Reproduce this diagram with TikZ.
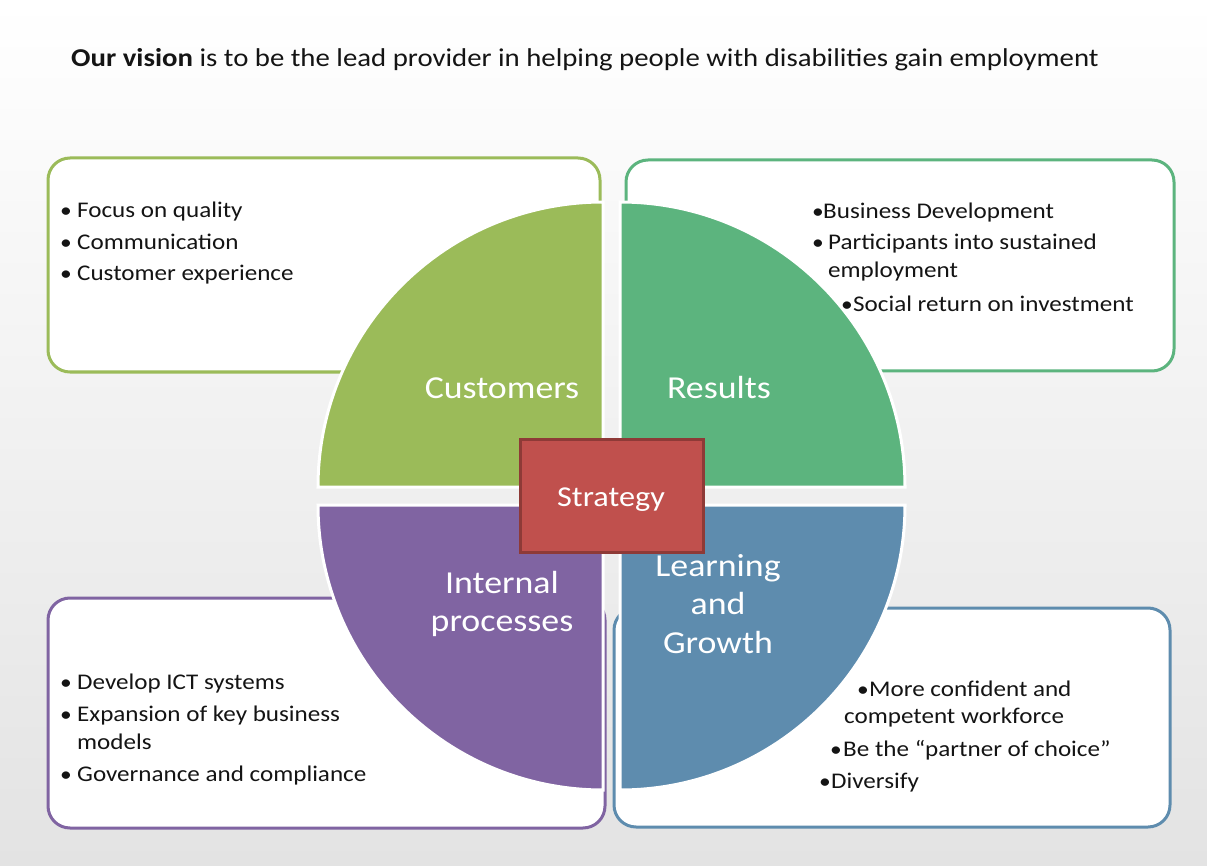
\documentclass[tikz,border=0pt]{standalone}
\usepackage{fontspec}
\setmainfont{Carlito}[FakeStretch=1.12]
\definecolor{cgreen}{HTML}{9BBB59}
\definecolor{rgreen}{HTML}{5CB47E}
\definecolor{ipurple}{HTML}{8064A2}
\definecolor{lblue}{HTML}{5E8CAE}
\definecolor{sred}{HTML}{C0504D}
\definecolor{sredd}{HTML}{8E3A37}
\definecolor{bgbot}{HTML}{E3E3E3}
\definecolor{txtc}{HTML}{141414}
\begin{document}
\begin{tikzpicture}[x=1pt,y=-1pt,
  infobox/.style={fill=white, line width=3pt, rounded corners=22pt},
  quad/.style={draw=white, line width=3pt},
  bul/.style={inner sep=0pt, anchor=base, text=txtc, font=\fontsize{21}{24}\selectfont},
  btxt/.style={inner sep=0pt, anchor=base west, text=txtc, font=\fontsize{22.4}{28}\selectfont},
  qlabel/.style={inner sep=0pt, text=white, align=center, font=\fontsize{32}{38.5}\selectfont}]
\useasboundingbox (0,0) rectangle (1207,866);
\shade[top color=white, bottom color=bgbot] (0,0) rectangle (1207,866);

% title
\node[inner sep=0pt, anchor=base west, text=txtc, font=\fontsize{25.7}{30}\selectfont] (title) at (71,67)
  {\textbf{Our vision} is to be the lead provider in helping people with disabilities gain employment};

% boxes
\draw[infobox, draw=cgreen] (48,158) rectangle (600,372);
\draw[infobox, draw=rgreen] (626,160) rectangle (1174,371);
\draw[infobox, draw=ipurple] (48,598) rectangle (605,828);
\draw[infobox, draw=lblue] (614,608) rectangle (1170,827);

% quadrants
\draw[quad, fill=cgreen] (603,487) -- (318,487) arc[start angle=180, end angle=90, radius=285pt] -- cycle;
\draw[quad, fill=rgreen] (620,487) -- (620,202) arc[start angle=90, end angle=0, radius=285pt] -- cycle;
\draw[quad, fill=ipurple] (603,505) -- (318,505) arc[start angle=180, end angle=270, radius=285pt] -- cycle;
\draw[quad, fill=lblue] (620,505) -- (905,505) arc[start angle=0, end angle=-90, radius=285pt] -- cycle;

% quadrant labels
\node[qlabel] (cust) at (502,388) {Customers};
\node[qlabel] (res) at (719,388) {Results};
\node[qlabel] (intp) at (502,604) {Internal\\processes};
\node[qlabel] (lag) at (718,604) {Learning\\and\\Growth};

% strategy
\node[draw=sredd, fill=sred, line width=3pt, minimum width=183pt, minimum height=113pt, inner sep=0pt] (strat) at (611.5,495.5) {};
\node[inner sep=0pt, text=white, font=\fontsize{28.8}{30}\selectfont] (stratlabel) at (611,499.5) {Strategy};

% top-left texts
\node[bul] (tlb1) at (66,218) {•}; \node[btxt] (tlt1) at (77,218) {Focus on quality};
\node[bul] (tlb2) at (66,250) {•}; \node[btxt] (tlt2) at (77,250) {Communication};
\node[bul] (tlb3) at (66,281) {•}; \node[btxt] (tlt3) at (77,281) {Customer experience};

% top-right texts
\node[bul] (trb1) at (818,219) {•}; \node[btxt] (trt1) at (823,219) {Business Development};
\node[bul] (trb2) at (818,250) {•}; \node[btxt] (trt2) at (828,250) {Participants into sustained};
\node[btxt] (trt3) at (828,278) {employment};
\node[bul] (trb4) at (847,312) {•}; \node[btxt] (trt4) at (853,312) {Social return on investment};

% bottom-left texts
\node[bul] (blb1) at (66,689) {•}; \node[btxt] (blt1) at (77,689) {Develop ICT systems};
\node[bul] (blb2) at (66,721) {•}; \node[btxt] (blt2) at (77,721) {Expansion of key business};
\node[btxt] (blt3) at (77,749) {models};
\node[bul] (blb4) at (66,781) {•}; \node[btxt] (blt4) at (77,781) {Governance and compliance};

% bottom-right texts
\node[bul] (brb1) at (863,696) {•}; \node[btxt] (brt1) at (869,696) {More confident and};
\node[btxt] (brt2) at (844,723) {competent workforce};
\node[bul] (brb3) at (836,756) {•}; \node[btxt] (brt3) at (843,756) {Be the “partner of choice”};
\node[bul] (brb4) at (825,788) {•}; \node[btxt] (brt4) at (831,788) {Diversify};
\end{tikzpicture}
\end{document}
